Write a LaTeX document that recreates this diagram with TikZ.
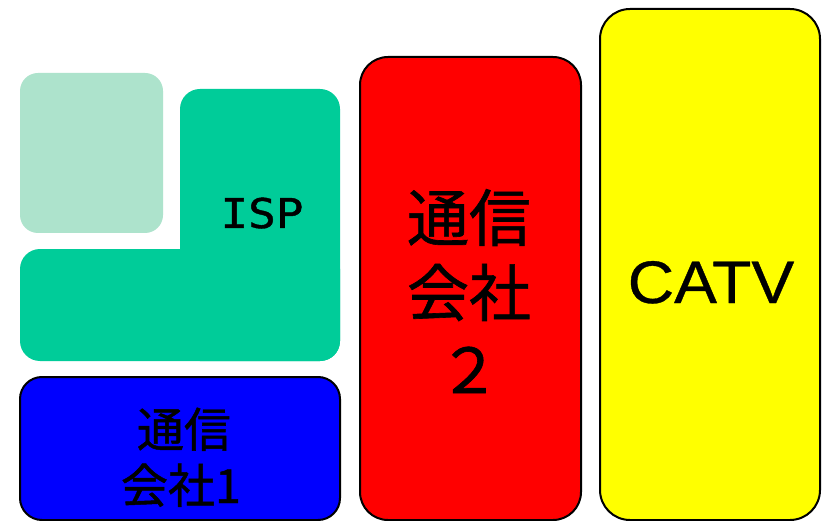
\documentclass[tikz,border=0pt]{standalone}
\usepackage{fontspec}
\newfontfamily\jp[FakeBold=1]{Noto Sans CJK JP}
\newfontfamily\lat[FakeBold=0.6]{Liberation Sans}
\newfontfamily\mono[FakeBold=1]{DejaVu Sans Mono}
\definecolor{paleg}{HTML}{ADE3CC}
\definecolor{ispg}{HTML}{00CC99}
\definecolor{bl}{HTML}{0000FF}
\definecolor{rd}{HTML}{FF0000}
\definecolor{yl}{HTML}{FFFF00}
\begin{document}
\begin{tikzpicture}[x=1pt,y=-1pt,
  box/.style={rectangle, anchor=north west, inner sep=0pt, outer sep=0pt},
  edged/.style={box, draw=black, line width=2pt},
  lbl/.style={anchor=base, inner sep=0pt, text=black}]
\useasboundingbox[fill=white] (0,0) rectangle (829,521);
% pale green
\node[box, fill=paleg, rounded corners=18pt, minimum width=143pt, minimum height=160pt] (pale) at (20,73) {};
% ISP L-shape
\node[box, fill=ispg, rounded corners=20pt, minimum width=160pt, minimum height=272pt] (ispt) at (180,89) {};
\node[box, fill=ispg, rounded corners=20pt, minimum width=320pt, minimum height=112pt] (ispb) at (20,249) {};
% blue
\node[edged, fill=bl, rounded corners=22pt, minimum width=320pt, minimum height=143pt] (blue) at (20,377) {};
% red
\node[edged, fill=rd, rounded corners=28pt, minimum width=221pt, minimum height=463pt] (red) at (360,57) {};
% yellow
\node[edged, fill=yl, rounded corners=30pt, minimum width=220pt, minimum height=511pt] (yel) at (600,9) {};
% texts
\node[lbl, font=\mono\fontsize{41}{48}\selectfont] (isp) at (262,228) {\scalebox{1.12}[1]{ISP}};
\node[lbl, font=\lat\fontsize{60}{70}\selectfont] (catv) at (711,303) {\scalebox{1.07}[1]{CATV}};
\node[lbl, font=\jp\fontsize{62}{70}\selectfont] (r1) at (469,241) {通信};
\node[lbl, font=\jp\fontsize{62}{70}\selectfont] (r2) at (469,316) {会社};
\node[lbl, font=\jp\fontsize{62}{70}\selectfont] (r3) at (469,393) {２};
\node[lbl, font=\jp\fontsize{47}{55}\selectfont] (b1) at (184,447) {通信};
\node[lbl, font=\jp\fontsize{47}{55}\selectfont] (b2) at (181,503) {会社1};
\end{tikzpicture}
\end{document}
